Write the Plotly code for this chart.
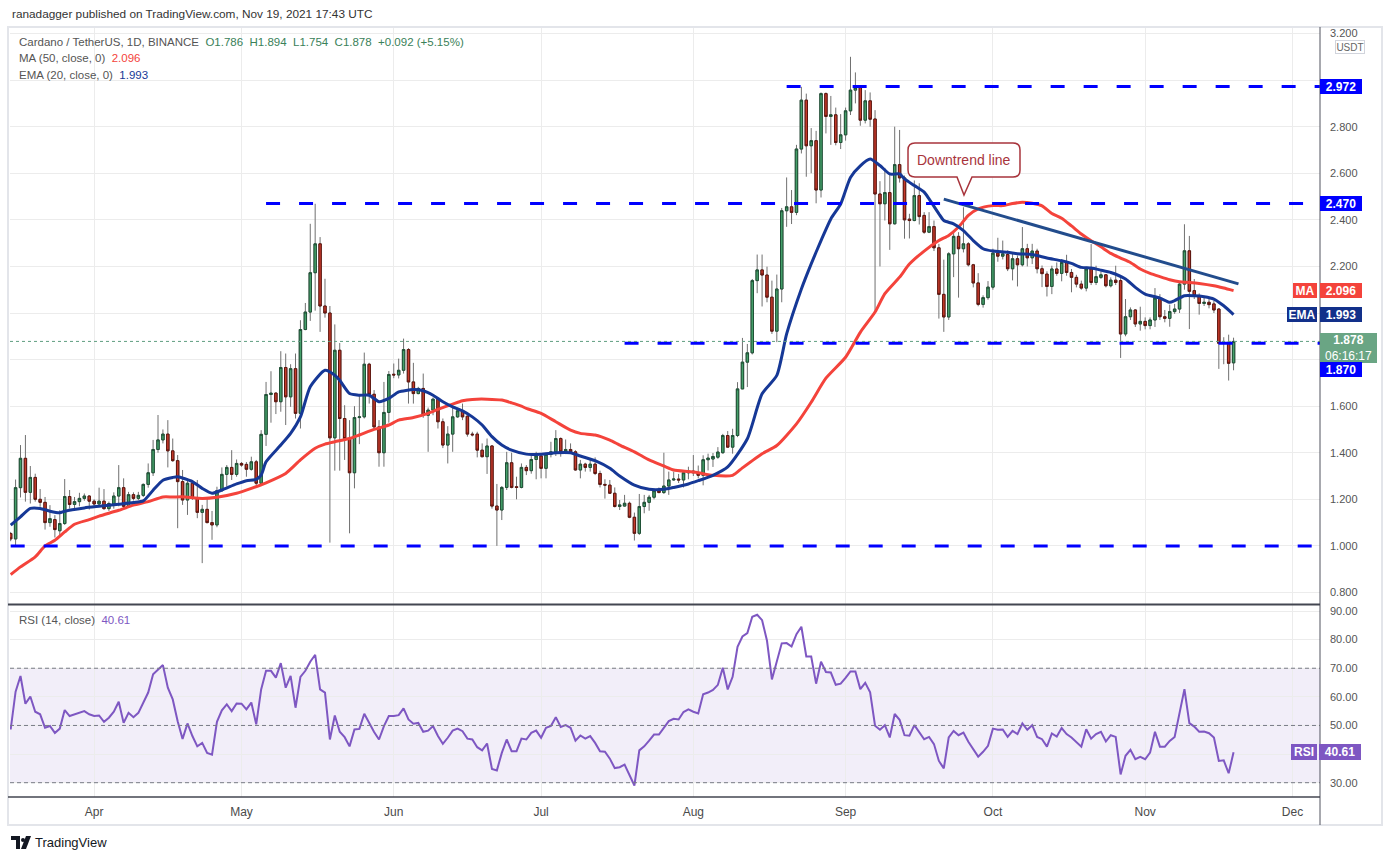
import numpy as np
import pandas as pd
import plotly.graph_objects as go
from plotly.subplots import make_subplots

# ADA/USDT daily candles, Mar 15 - Nov 19 2021
first_day = pd.Timestamp("2021-03-15")
dates = pd.date_range(first_day, periods=250, freq="D")

opens = [1.053, 1.03, 1.25, 1.376, 1.23, 1.294, 1.2, 1.187, 1.1, 1.113,
         1.065, 1.096, 1.212, 1.178, 1.19, 1.204, 1.214, 1.192, 1.18, 1.192,
         1.16, 1.18, 1.214, 1.25, 1.17, 1.22, 1.204, 1.217, 1.264, 1.314,
         1.414, 1.455, 1.48, 1.408, 1.366, 1.276, 1.197, 1.269, 1.204, 1.144,
         1.157, 1.1, 1.09, 1.237, 1.307, 1.337, 1.307, 1.354, 1.35, 1.329,
         1.361, 1.269, 1.479, 1.65, 1.656, 1.619, 1.766, 1.64, 1.761, 1.569,
         1.929, 2.004, 2.173, 2.297, 2.03, 2.0, 1.464, 1.84, 1.547, 1.461,
         1.314, 1.551, 1.554, 1.78, 1.651, 1.511, 1.4, 1.573, 1.737, 1.734,
         1.754, 1.843, 1.704, 1.654, 1.676, 1.561, 1.583, 1.63, 1.533, 1.433,
         1.48, 1.554, 1.58, 1.557, 1.48, 1.48, 1.411, 1.383, 1.429, 1.171,
         1.154, 1.251, 1.357, 1.254, 1.251, 1.337, 1.323, 1.371, 1.386, 1.333,
         1.393, 1.404, 1.461, 1.4, 1.414, 1.404, 1.326, 1.351, 1.337, 1.351,
         1.311, 1.264, 1.261, 1.226, 1.169, 1.171, 1.183, 1.123, 1.054, 1.169,
         1.187, 1.209, 1.237, 1.229, 1.257, 1.283, 1.287, 1.283, 1.314, 1.321,
         1.314, 1.303, 1.37, 1.373, 1.381, 1.4, 1.474, 1.424, 1.474, 1.674,
         1.789, 1.829, 2.139, 2.185, 2.163, 2.068, 1.922, 2.103, 2.439, 2.456,
         2.432, 2.704, 2.914, 2.718, 2.74, 2.528, 2.942, 2.844, 2.851, 2.732,
         2.765, 2.868, 2.957, 2.968, 2.828, 2.911, 2.833, 2.511, 2.469, 2.517,
         2.383, 2.637, 2.58, 2.403, 2.397, 2.504, 2.419, 2.347, 2.371, 2.28,
         2.08, 1.983, 2.254, 2.329, 2.276, 2.297, 2.207, 2.129, 2.037, 2.066,
         2.111, 2.257, 2.244, 2.251, 2.19, 2.233, 2.207, 2.276, 2.237, 2.266,
         2.19, 2.167, 2.114, 2.189, 2.17, 2.217, 2.174, 2.153, 2.124, 2.107,
         2.189, 2.131, 2.153, 2.164, 2.117, 2.141, 2.139, 1.91, 1.984, 2.013,
         1.953, 1.964, 1.946, 1.97, 2.064, 1.984, 1.977, 2.006, 2.017, 2.124,
         2.267, 2.096, 2.074, 2.041, 2.046, 2.039, 2.017, 1.87, 1.874, 1.786]

highs = [1.06, 1.285, 1.433, 1.476, 1.343, 1.31, 1.244, 1.21, 1.175, 1.132,
         1.153, 1.287, 1.24, 1.21, 1.228, 1.225, 1.218, 1.2, 1.25, 1.244,
         1.19, 1.23, 1.347, 1.29, 1.232, 1.23, 1.232, 1.268, 1.354, 1.455,
         1.562, 1.5, 1.54, 1.461, 1.39, 1.326, 1.29, 1.283, 1.283, 1.176,
         1.204, 1.15, 1.254, 1.337, 1.347, 1.411, 1.371, 1.36, 1.36, 1.383,
         1.369, 1.497, 1.704, 1.75, 1.66, 1.836, 1.826, 1.78, 1.826, 1.969,
         2.043, 2.383, 2.469, 2.326, 2.147, 2.03, 1.951, 1.871, 1.604, 1.54,
         1.6, 1.647, 1.83, 1.786, 1.669, 1.54, 1.704, 1.751, 1.783, 1.804,
         1.89, 1.849, 1.786, 1.683, 1.74, 1.594, 1.637, 1.637, 1.547, 1.514,
         1.6, 1.594, 1.611, 1.561, 1.49, 1.49, 1.44, 1.461, 1.433, 1.266,
         1.257, 1.404, 1.4, 1.297, 1.354, 1.347, 1.39, 1.404, 1.397, 1.4,
         1.447, 1.497, 1.466, 1.457, 1.44, 1.411, 1.369, 1.357, 1.369, 1.38,
         1.323, 1.286, 1.283, 1.251, 1.197, 1.219, 1.19, 1.143, 1.223, 1.219,
         1.219, 1.24, 1.251, 1.4, 1.319, 1.319, 1.309, 1.323, 1.34, 1.39,
         1.345, 1.389, 1.396, 1.399, 1.424, 1.481, 1.493, 1.503, 1.703, 1.893,
         1.867, 2.146, 2.251, 2.251, 2.199, 2.139, 2.165, 2.451, 2.582, 2.528,
         2.722, 2.971, 2.942, 2.794, 2.782, 2.947, 2.947, 2.932, 2.882, 2.854,
         2.882, 3.1, 3.033, 2.968, 2.957, 2.947, 2.871, 2.566, 2.623, 2.593,
         2.8, 2.786, 2.59, 2.426, 2.569, 2.557, 2.433, 2.433, 2.397, 2.297,
         2.229, 2.261, 2.343, 2.347, 2.454, 2.304, 2.211, 2.171, 2.076, 2.137,
         2.276, 2.323, 2.311, 2.269, 2.257, 2.247, 2.369, 2.297, 2.297, 2.276,
         2.204, 2.179, 2.203, 2.217, 2.231, 2.25, 2.189, 2.164, 2.139, 2.199,
         2.296, 2.203, 2.179, 2.167, 2.153, 2.203, 2.153, 2.06, 2.024, 2.017,
         2.027, 1.981, 1.981, 2.107, 2.081, 2.013, 2.036, 2.039, 2.136, 2.381,
         2.331, 2.146, 2.084, 2.074, 2.067, 2.053, 2.021, 1.896, 1.907, 1.894]

lows = [1.02, 1.0, 1.208, 1.19, 1.182, 1.19, 1.168, 1.07, 1.082, 1.036,
        1.046, 1.09, 1.16, 1.16, 1.17, 1.194, 1.156, 1.17, 1.17, 1.155,
        1.15, 1.16, 1.17, 1.16, 1.165, 1.195, 1.196, 1.21, 1.25, 1.3,
        1.4, 1.44, 1.337, 1.361, 1.076, 1.176, 1.133, 1.197, 1.119, 0.926,
        1.097, 1.026, 1.08, 1.233, 1.254, 1.283, 1.297, 1.34, 1.297, 1.323,
        1.261, 1.26, 1.429, 1.529, 1.566, 1.576, 1.519, 1.597, 1.547, 1.504,
        1.926, 1.966, 2.01, 1.919, 1.98, 1.014, 1.323, 1.323, 1.369, 1.054,
        1.247, 1.437, 1.547, 1.611, 1.5, 1.34, 1.34, 1.529, 1.72, 1.719,
        1.74, 1.611, 1.611, 1.651, 1.55, 1.404, 1.561, 1.504, 1.42, 1.354,
        1.404, 1.55, 1.54, 1.469, 1.47, 1.38, 1.38, 1.309, 1.16, 1.0,
        1.111, 1.24, 1.247, 1.2, 1.247, 1.304, 1.31, 1.286, 1.29, 1.29,
        1.38, 1.386, 1.383, 1.394, 1.4, 1.323, 1.29, 1.319, 1.319, 1.304,
        1.251, 1.203, 1.223, 1.165, 1.154, 1.169, 1.119, 1.023, 1.047, 1.14,
        1.151, 1.2, 1.226, 1.223, 1.219, 1.28, 1.27, 1.251, 1.286, 1.3,
        1.29, 1.26, 1.324, 1.339, 1.374, 1.396, 1.421, 1.396, 1.467, 1.674,
        1.682, 1.822, 2.085, 2.028, 2.046, 1.91, 1.875, 2.046, 2.37, 2.382,
        2.42, 2.685, 2.585, 2.6, 2.471, 2.496, 2.771, 2.722, 2.72, 2.704,
        2.74, 2.85, 2.9, 2.804, 2.814, 2.8, 2.004, 2.2, 2.397, 2.271,
        2.38, 2.56, 2.319, 2.32, 2.394, 2.38, 2.34, 2.343, 2.266, 1.976,
        1.919, 1.97, 2.154, 2.066, 2.26, 2.2, 2.11, 2.029, 2.023, 2.057,
        2.1, 2.22, 2.23, 2.18, 2.14, 2.114, 2.2, 2.2, 2.21, 2.17,
        2.111, 2.071, 2.081, 2.16, 2.136, 2.16, 2.089, 2.11, 2.1, 2.093,
        2.12, 2.12, 2.146, 2.11, 2.11, 2.12, 1.807, 1.9, 1.97, 1.94,
        1.924, 1.93, 1.93, 1.94, 1.97, 1.96, 1.941, 1.996, 2.0, 2.1,
        1.931, 2.06, 1.993, 2.03, 2.02, 2.0, 1.76, 1.78, 1.71, 1.754]

closes = [1.03, 1.25, 1.376, 1.23, 1.294, 1.2, 1.187, 1.1, 1.117, 1.07,
          1.096, 1.212, 1.178, 1.19, 1.204, 1.214, 1.192, 1.18, 1.192, 1.16,
          1.182, 1.214, 1.25, 1.17, 1.22, 1.204, 1.217, 1.264, 1.314, 1.414,
          1.455, 1.48, 1.408, 1.366, 1.276, 1.197, 1.269, 1.204, 1.144, 1.157,
          1.1, 1.09, 1.237, 1.307, 1.337, 1.307, 1.354, 1.347, 1.329, 1.361,
          1.269, 1.479, 1.65, 1.656, 1.619, 1.766, 1.64, 1.761, 1.569, 1.929,
          2.004, 2.173, 2.297, 2.03, 2.0, 1.464, 1.84, 1.547, 1.461, 1.314,
          1.551, 1.554, 1.78, 1.651, 1.511, 1.4, 1.573, 1.736, 1.734, 1.754,
          1.843, 1.704, 1.654, 1.676, 1.561, 1.583, 1.63, 1.533, 1.433, 1.48,
          1.554, 1.58, 1.554, 1.48, 1.477, 1.411, 1.383, 1.429, 1.171, 1.154,
          1.251, 1.357, 1.251, 1.251, 1.337, 1.323, 1.371, 1.386, 1.333, 1.393,
          1.404, 1.461, 1.404, 1.414, 1.404, 1.326, 1.351, 1.337, 1.351, 1.311,
          1.264, 1.261, 1.226, 1.169, 1.176, 1.183, 1.123, 1.054, 1.169, 1.187,
          1.209, 1.237, 1.229, 1.257, 1.283, 1.287, 1.283, 1.314, 1.321, 1.314,
          1.303, 1.37, 1.377, 1.384, 1.403, 1.474, 1.424, 1.474, 1.674, 1.789,
          1.829, 2.139, 2.185, 2.163, 2.068, 1.922, 2.103, 2.439, 2.456, 2.432,
          2.704, 2.914, 2.718, 2.74, 2.528, 2.942, 2.844, 2.851, 2.732, 2.765,
          2.868, 2.957, 2.968, 2.828, 2.911, 2.832, 2.511, 2.469, 2.517, 2.383,
          2.637, 2.58, 2.4, 2.397, 2.504, 2.414, 2.347, 2.371, 2.28, 2.08,
          1.983, 2.254, 2.329, 2.276, 2.297, 2.207, 2.129, 2.037, 2.066, 2.111,
          2.257, 2.244, 2.254, 2.19, 2.233, 2.207, 2.276, 2.237, 2.266, 2.19,
          2.169, 2.114, 2.189, 2.17, 2.217, 2.174, 2.153, 2.124, 2.107, 2.189,
          2.131, 2.156, 2.164, 2.117, 2.141, 2.131, 1.91, 1.984, 2.013, 1.953,
          1.964, 1.946, 1.97, 2.064, 1.984, 1.977, 2.006, 2.017, 2.124, 2.267,
          2.093, 2.074, 2.041, 2.046, 2.036, 2.013, 1.87, 1.874, 1.784, 1.878]

# moving averages, read at sample days (offset from first candle)
ema20_day = [0, 2, 4, 6, 8, 10, 11, 15, 18, 22, 25, 27, 29, 31, 33, 34, 37, 39, 41, 43,
             46, 48, 50, 51, 52, 55, 57, 59, 61, 64, 66, 67, 69, 71, 73, 75, 77, 79, 82, 84,
             86, 88, 90, 92, 94, 96, 98, 100, 102, 105, 108, 111, 114, 116, 119, 122, 124, 127, 130, 133,
             135, 138, 140, 143, 146, 150, 153, 156, 158, 161, 163, 165, 167, 169, 171, 173, 175, 177, 179, 181,
             182, 184, 186, 187, 189, 190, 192, 194, 196, 198, 200, 203, 205, 208, 211, 214, 216, 218, 220, 222,
             224, 227, 229, 231, 234, 236, 237, 239, 241, 243, 245, 247, 249]
ema20_val = [1.089, 1.125, 1.161, 1.161, 1.149, 1.142, 1.149, 1.163, 1.17, 1.179,
             1.186, 1.193, 1.239, 1.282, 1.294, 1.297, 1.276, 1.247, 1.226, 1.24,
             1.266, 1.28, 1.286, 1.304, 1.361, 1.433, 1.483, 1.554, 1.683, 1.754,
             1.733, 1.711, 1.654, 1.647, 1.647, 1.619, 1.633, 1.661, 1.671, 1.666,
             1.647, 1.619, 1.597, 1.58, 1.554, 1.519, 1.469, 1.433, 1.411, 1.394,
             1.394, 1.4, 1.4, 1.386, 1.366, 1.333, 1.3, 1.261, 1.243, 1.243,
             1.251, 1.266, 1.28, 1.303, 1.339, 1.46, 1.653, 1.732, 1.91, 2.103,
             2.211, 2.311, 2.404, 2.468, 2.582, 2.632, 2.661, 2.633, 2.597, 2.597,
             2.576, 2.547, 2.519, 2.49, 2.426, 2.397, 2.383, 2.354, 2.311, 2.276,
             2.266, 2.261, 2.254, 2.251, 2.236, 2.224, 2.213, 2.196, 2.193, 2.184,
             2.174, 2.146, 2.11, 2.081, 2.064, 2.046, 2.053, 2.074, 2.074, 2.07,
             2.06, 2.031, 1.993]

ma50_day = [0, 2, 5, 7, 9, 11, 13, 16, 18, 22, 25, 28, 31, 33, 35, 39, 42, 46, 49, 52,
            56, 59, 62, 64, 66, 69, 71, 74, 77, 79, 82, 85, 87, 90, 92, 94, 97, 100, 102, 104,
            105, 108, 111, 114, 116, 119, 122, 124, 127, 130, 133, 135, 138, 140, 143, 147, 149, 153, 156, 160,
            163, 166, 170, 173, 176, 178, 181, 183, 186, 189, 191, 193, 195, 197, 200, 202, 204, 206, 208, 210,
            212, 214, 216, 218, 220, 222, 224, 226, 228, 230, 232, 234, 236, 238, 240, 242, 245, 247, 249]
ma50_val = [0.877, 0.91, 0.953, 1.0, 1.024, 1.06, 1.093, 1.113, 1.128, 1.153,
            1.175, 1.19, 1.21, 1.21, 1.211, 1.204, 1.209, 1.226, 1.247, 1.271,
            1.311, 1.369, 1.419, 1.437, 1.447, 1.461, 1.476, 1.5, 1.519, 1.54,
            1.551, 1.569, 1.586, 1.609, 1.623, 1.629, 1.63, 1.626, 1.614, 1.6,
            1.59, 1.569, 1.533, 1.497, 1.483, 1.476, 1.454, 1.433, 1.404, 1.369,
            1.343, 1.326, 1.319, 1.314, 1.303, 1.303, 1.335, 1.396, 1.431, 1.524,
            1.617, 1.72, 1.81, 1.917, 2.004, 2.083, 2.154, 2.21, 2.266, 2.311,
            2.333, 2.369, 2.419, 2.447, 2.461, 2.461, 2.47, 2.476, 2.471, 2.46,
            2.427, 2.407, 2.374, 2.339, 2.31, 2.284, 2.256, 2.236, 2.217, 2.189,
            2.17, 2.156, 2.143, 2.134, 2.131, 2.127, 2.117, 2.107, 2.096]

rsi14 = [48.6, 61.8, 67.3, 57.6, 60.1, 54.8, 53.9, 49.2, 49.8, 47.4,
         48.9, 55.4, 53.3, 53.9, 54.4, 55.0, 53.9, 53.3, 53.5, 51.3,
         52.7, 54.8, 58.3, 50.9, 54.4, 52.9, 54.4, 57.7, 61.5, 67.9,
         69.6, 71.1, 63.2, 59.1, 51.5, 45.3, 50.7, 46.3, 42.7, 43.9,
         40.4, 39.8, 51.3, 55.3, 57.4, 55.0, 57.7, 57.6, 55.6, 58.0,
         50.4, 62.6, 69.1, 69.1, 66.7, 71.8, 63.2, 67.3, 56.2, 67.0,
         69.1, 72.3, 74.7, 62.6, 61.5, 45.1, 53.5, 47.8, 45.9, 42.7,
         48.6, 48.8, 54.1, 50.9, 47.7, 45.1, 49.8, 53.3, 53.3, 53.6,
         56.0, 52.1, 50.6, 50.9, 47.8, 48.2, 49.8, 46.3, 43.6, 45.7,
         48.2, 48.9, 48.0, 45.4, 45.1, 42.4, 41.3, 43.7, 34.8, 34.3,
         40.4, 45.1, 41.0, 41.0, 45.4, 45.1, 47.4, 48.2, 45.7, 49.2,
         49.8, 52.9, 49.5, 50.1, 49.2, 44.7, 46.5, 45.4, 46.3, 43.9,
         41.0, 40.8, 38.4, 35.1, 35.4, 36.3, 32.6, 29.0, 41.3, 42.7,
         44.7, 46.8, 46.8, 49.2, 51.5, 52.3, 52.1, 54.7, 55.6, 54.8,
         54.2, 60.9, 61.5, 62.4, 64.2, 70.2, 62.6, 67.0, 77.5, 81.1,
         82.3, 88.0, 88.7, 86.8, 79.6, 66.1, 72.0, 78.7, 78.8, 77.6,
         81.9, 84.5, 74.1, 74.1, 64.6, 72.3, 68.7, 68.5, 64.2, 64.6,
         66.6, 68.9, 68.9, 62.7, 64.9, 61.6, 49.9, 48.5, 50.1, 45.8,
         54.0, 52.0, 46.6, 46.4, 50.1, 47.5, 45.2, 46.0, 43.5, 37.6,
         35.0, 45.8, 48.1, 46.6, 47.5, 44.3, 41.7, 39.1, 40.8, 42.9,
         48.9, 48.5, 48.6, 46.0, 48.1, 47.0, 50.7, 48.5, 50.1, 46.0,
         45.2, 42.6, 47.2, 46.1, 49.1, 47.0, 45.8, 44.3, 42.6, 48.7,
         45.4, 47.0, 47.8, 44.4, 46.6, 46.0, 32.9, 39.4, 41.5, 38.2,
         39.0, 38.2, 40.5, 47.8, 42.6, 42.6, 44.6, 46.0, 54.0, 62.7,
         50.8, 49.6, 47.8, 47.9, 47.3, 45.8, 37.6, 37.8, 33.3, 40.61]

# horizontal levels drawn on the chart: price and the day they start from
level_price = [2.972, 2.470, 1.870, 1.000]
level_from = ["2021-08-20", "2021-05-06", "2021-07-18", "2021-03-15"]
trend_dates = ["2021-09-21", "2021-11-20"]
trend_price = [2.489, 2.125]

# price / rsi axis labels (the ones covered by tags on the original are left blank)
price_ticks = [0.8, 1.0, 1.2, 1.4, 1.6, 1.8, 2.0, 2.2, 2.4, 2.6, 2.8, 3.0, 3.2]
price_text = ["0.800", "1.000", "1.200", "1.400", "1.600", "", "", "2.200", "2.400",
              "2.600", "2.800", "", "3.200"]
rsi_ticks = [30, 40, 50, 60, 70, 80, 90]
rsi_text = ["30.00", "", "50.00", "60.00", "70.00", "80.00", "90.00"]

assert len(opens) == len(highs) == len(lows) == len(closes) == len(rsi14) == 250
assert len(ema20_day) == len(ema20_val) and len(ma50_day) == len(ma50_val)

FONT = "Liberation Sans, Arial, sans-serif"
UP, UP_EDGE = "#45a06a", "#1f5136"
DN, DN_EDGE = "#c53a2b", "#5e150e"
WICK = "#707070"
EMA_C = "#163896"
MA_C = "#f4433b"
RSI_C = "#7e57c2"
LEVEL_C = "#0000ff"
GRID = "#ececec"

# plot area in pixels (1391x860 canvas)
L, R, T, B = 10, 1320, 27, 797


def px(x):
    return (x - L) / (R - L)


def py(y):
    return (B - y) / (B - T)


fig = make_subplots(rows=2, cols=1, shared_xaxes=True, vertical_spacing=0)

# wicks first, bodies on top
fig.add_trace(go.Candlestick(
    x=dates, open=opens, high=highs, low=lows, close=closes,
    increasing=dict(line=dict(color=WICK, width=1), fillcolor=WICK),
    decreasing=dict(line=dict(color=WICK, width=1), fillcolor=WICK),
    hoverinfo="skip"), row=1, col=1)
body_top = np.maximum(opens, closes)
body_bot = np.minimum(opens, closes)
fig.add_trace(go.Candlestick(
    x=dates, open=opens, high=body_top, low=body_bot, close=closes,
    increasing=dict(line=dict(color=UP_EDGE, width=1), fillcolor=UP),
    decreasing=dict(line=dict(color=DN_EDGE, width=1), fillcolor=DN),
    hoverinfo="skip"), row=1, col=1)

ema_x = first_day + pd.to_timedelta(ema20_day, unit="D")
ma_x = first_day + pd.to_timedelta(ma50_day, unit="D")
fig.add_trace(go.Scatter(x=ma_x, y=ma50_val, mode="lines",
                         line=dict(color=MA_C, width=3, shape="spline", smoothing=0.6)), row=1, col=1)
fig.add_trace(go.Scatter(x=ema_x, y=ema20_val, mode="lines",
                         line=dict(color=EMA_C, width=3, shape="spline", smoothing=0.6)), row=1, col=1)
fig.add_trace(go.Scatter(x=pd.to_datetime(trend_dates), y=trend_price, mode="lines",
                         line=dict(color="#224c8c", width=3)), row=1, col=1)

fig.add_trace(go.Scatter(x=dates, y=rsi14, mode="lines",
                         line=dict(color=RSI_C, width=2)), row=2, col=1)

x_lo = first_day - pd.Timedelta(hours=3.3)
x_hi = first_day + pd.Timedelta(days=266.6)

fig.update_layout(
    width=1391, height=860,
    margin=dict(l=L, r=1391 - R, t=T, b=860 - B),
    paper_bgcolor="white", plot_bgcolor="white",
    showlegend=False, hovermode=False,
    font=dict(family=FONT, color="#4a4a4a", size=11),
    xaxis=dict(rangeslider=dict(visible=False)),
)
fig.update_xaxes(type="date", range=[x_lo, x_hi], dtick="M1", tick0="2021-04-01",
                 showgrid=True, gridcolor=GRID, zeroline=False, showline=False, ticks="")
fig.update_xaxes(showticklabels=False, row=1, col=1)
fig.update_xaxes(tickformat="%b", tickfont=dict(size=12, color="#4a4a4a"),
                 ticklabelstandoff=6, row=2, col=1)
fig.update_yaxes(side="right", showgrid=True, gridcolor=GRID, zeroline=False,
                 showline=False, ticks="", ticklabelstandoff=9,
                 tickfont=dict(size=11, color="#555555"))
fig.update_yaxes(range=[0.7505, 3.228], tickvals=price_ticks, ticktext=price_text,
                 domain=[py(604), 1], row=1, col=1)
fig.update_yaxes(range=[25.0, 92.1], tickvals=rsi_ticks, ticktext=rsi_text,
                 domain=[0, py(605)], row=2, col=1)

shapes = []
# RSI band and guide lines
shapes.append(dict(type="rect", xref="x2 domain", yref="y2", x0=0, x1=1, y0=30, y1=70,
                   fillcolor="rgba(126,87,194,0.1)", line=dict(width=0), layer="below"))
for lv in (70, 50, 30):
    shapes.append(dict(type="line", xref="x2 domain", yref="y2", x0=0, x1=1, y0=lv, y1=lv,
                       line=dict(color="#787b86", width=1, dash="4px,3px")))
# support / resistance levels
for p, d0 in zip(level_price, level_from):
    shapes.append(dict(type="line", xref="x", yref="y", x0=d0, x1=x_hi, y0=p, y1=p,
                       line=dict(color=LEVEL_C, width=3, dash="14px,19px")))
# last price dotted line
shapes.append(dict(type="line", xref="x domain", yref="y", x0=0, x1=1, y0=closes[-1], y1=closes[-1],
                   line=dict(color="#5f9e80", width=1, dash="dot")))
# frame, axis lines, panel separator
shapes.append(dict(type="rect", xref="paper", yref="paper", x0=px(8), x1=px(1382), y0=py(825), y1=py(27),
                   line=dict(color="#e3e5ea", width=2)))
shapes.append(dict(type="line", xref="paper", yref="paper", x0=1, x1=1, y0=py(825), y1=py(27),
                   line=dict(color="#50535e", width=1)))
shapes.append(dict(type="line", xref="paper", yref="paper", x0=px(8), x1=1, y0=py(604.5), y1=py(604.5),
                   line=dict(color="#434651", width=2)))
shapes.append(dict(type="line", xref="paper", yref="paper", x0=px(8), x1=1, y0=py(797), y1=py(797),
                   line=dict(color="#434651", width=1.5)))

# "Downtrend line" callout bubble
bx0, bx1, by0, by1, rr = 908, 1020, 143, 177, 7
pts = [("M", bx0 + rr, by0), ("L", bx1 - rr, by0), ("Q", bx1, by0, bx1, by0 + rr),
       ("L", bx1, by1 - rr), ("Q", bx1, by1, bx1 - rr, by1), ("L", 972, by1), ("L", 964, 195),
       ("L", 957, by1), ("L", bx0 + rr, by1), ("Q", bx0, by1, bx0, by1 - rr),
       ("L", bx0, by0 + rr), ("Q", bx0, by0, bx0 + rr, by0)]
path = ""
for p in pts:
    cmd, coords = p[0], p[1:]
    xy = []
    for i in range(0, len(coords), 2):
        xy.append(f"{px(coords[i]):.5f},{py(coords[i + 1]):.5f}")
    path += cmd + " ".join(xy) + " "
shapes.append(dict(type="path", xref="paper", yref="paper", path=path + "Z",
                   fillcolor="white", line=dict(color="#a8343c", width=1.5)))

# TradingView footer logo
shapes.append(dict(type="path", xref="paper", yref="paper",
                   path=f"M{px(11)},{py(836)} L{px(20)},{py(836)} L{px(20)},{py(849)} L{px(16)},{py(849)} "
                        f"L{px(16)},{py(840)} L{px(11)},{py(840)} Z",
                   fillcolor="#131722", line=dict(width=0)))
shapes.append(dict(type="circle", xref="paper", yref="paper", x0=px(21), x1=px(25), y0=py(842), y1=py(838),
                   fillcolor="#131722", line=dict(width=0)))
shapes.append(dict(type="path", xref="paper", yref="paper",
                   path=f"M{px(26)},{py(836)} L{px(31)},{py(836)} L{px(26)},{py(849)} L{px(21)},{py(849)} Z",
                   fillcolor="#131722", line=dict(width=0)))
fig.update_layout(shapes=shapes)


def label(text, x, y, yref, bg, w, h, size=12, fc="white", bc=None):
    fig.add_annotation(x=x, y=y, xref="paper", yref=yref, text=text, showarrow=False,
                       bgcolor=bg, bordercolor=bc or bg, borderwidth=1 if bc else 0, borderpad=0,
                       width=w, height=h, xanchor="center", yanchor="middle",
                       font=dict(family=FONT, size=size, color=fc))


def note(text, x, y, size=11.5, color="#555555", anchor="left"):
    fig.add_annotation(x=px(x), y=py(y), xref="paper", yref="paper", xanchor=anchor,
                       yanchor="middle", showarrow=False, text=text,
                       font=dict(family=FONT, size=size, color=color))


# header and legend texts
note("ranadagger published on TradingView.com, Nov 19, 2021 17:43 UTC", 10, 14, size=11.8, color="#333333")
green = "#3a8159"
note("Cardano / TetherUS, 1D, BINANCE&nbsp;&nbsp;"
     f"<span style='color:{green}'>O1.786&nbsp;&nbsp;H1.894&nbsp;&nbsp;L1.754&nbsp;&nbsp;"
     "C1.878&nbsp;&nbsp;+0.092 (+5.15%)</span>", 17, 42)
note(f"MA (50, close, 0)&nbsp;&nbsp;<span style='color:{MA_C}'>2.096</span>", 17, 58.5)
note(f"EMA (20, close, 0)&nbsp;&nbsp;<span style='color:{EMA_C}'>1.993</span>", 17, 75)
note(f"RSI (14, close)&nbsp;&nbsp;<span style='color:{RSI_C}'>40.61</span>", 17, 620)
note("Downtrend line", 964, 160, size=14, color="#a8343c", anchor="center")
note("TradingView", 33, 842.5, size=13, color="#131722")

# price-axis tags
label("USDT", px(1350), py(47), "paper", "white", 28, 12, size=10, fc="#666666", bc="#d1d4dc")
label("<b>2.972</b>", px(1341), 2.972, "y", LEVEL_C, 42, 15)
label("<b>2.470</b>", px(1341), 2.470, "y", LEVEL_C, 42, 15)
label("<b>MA</b>", px(1305), 2.096, "y", MA_C, 24, 15)
label("<b>2.096</b>", px(1341), 2.096, "y", MA_C, 42, 15)
label("<b>EMA</b>", px(1302), 1.993, "y", "#12308a", 30, 15)
label("<b>1.993</b>", px(1341), 1.993, "y", "#12308a", 42, 15)
label("<b>1.878</b><br>06:16:17", px(1348), py(348), "paper", "#6aa584", 57, 30)
label("<b>1.870</b>", px(1341), py(369), "paper", LEVEL_C, 42, 15)
label("<b>RSI</b>", px(1304), 40.61, "y2", RSI_C, 26, 16)
label("<b>40.61</b>", px(1340), 40.61, "y2", RSI_C, 42, 16)

# the page would otherwise add an 8px body margin around the figure
fig.write_html("out.html", config={"displayModeBar": False},
               post_script="document.body.style.margin='0';")
